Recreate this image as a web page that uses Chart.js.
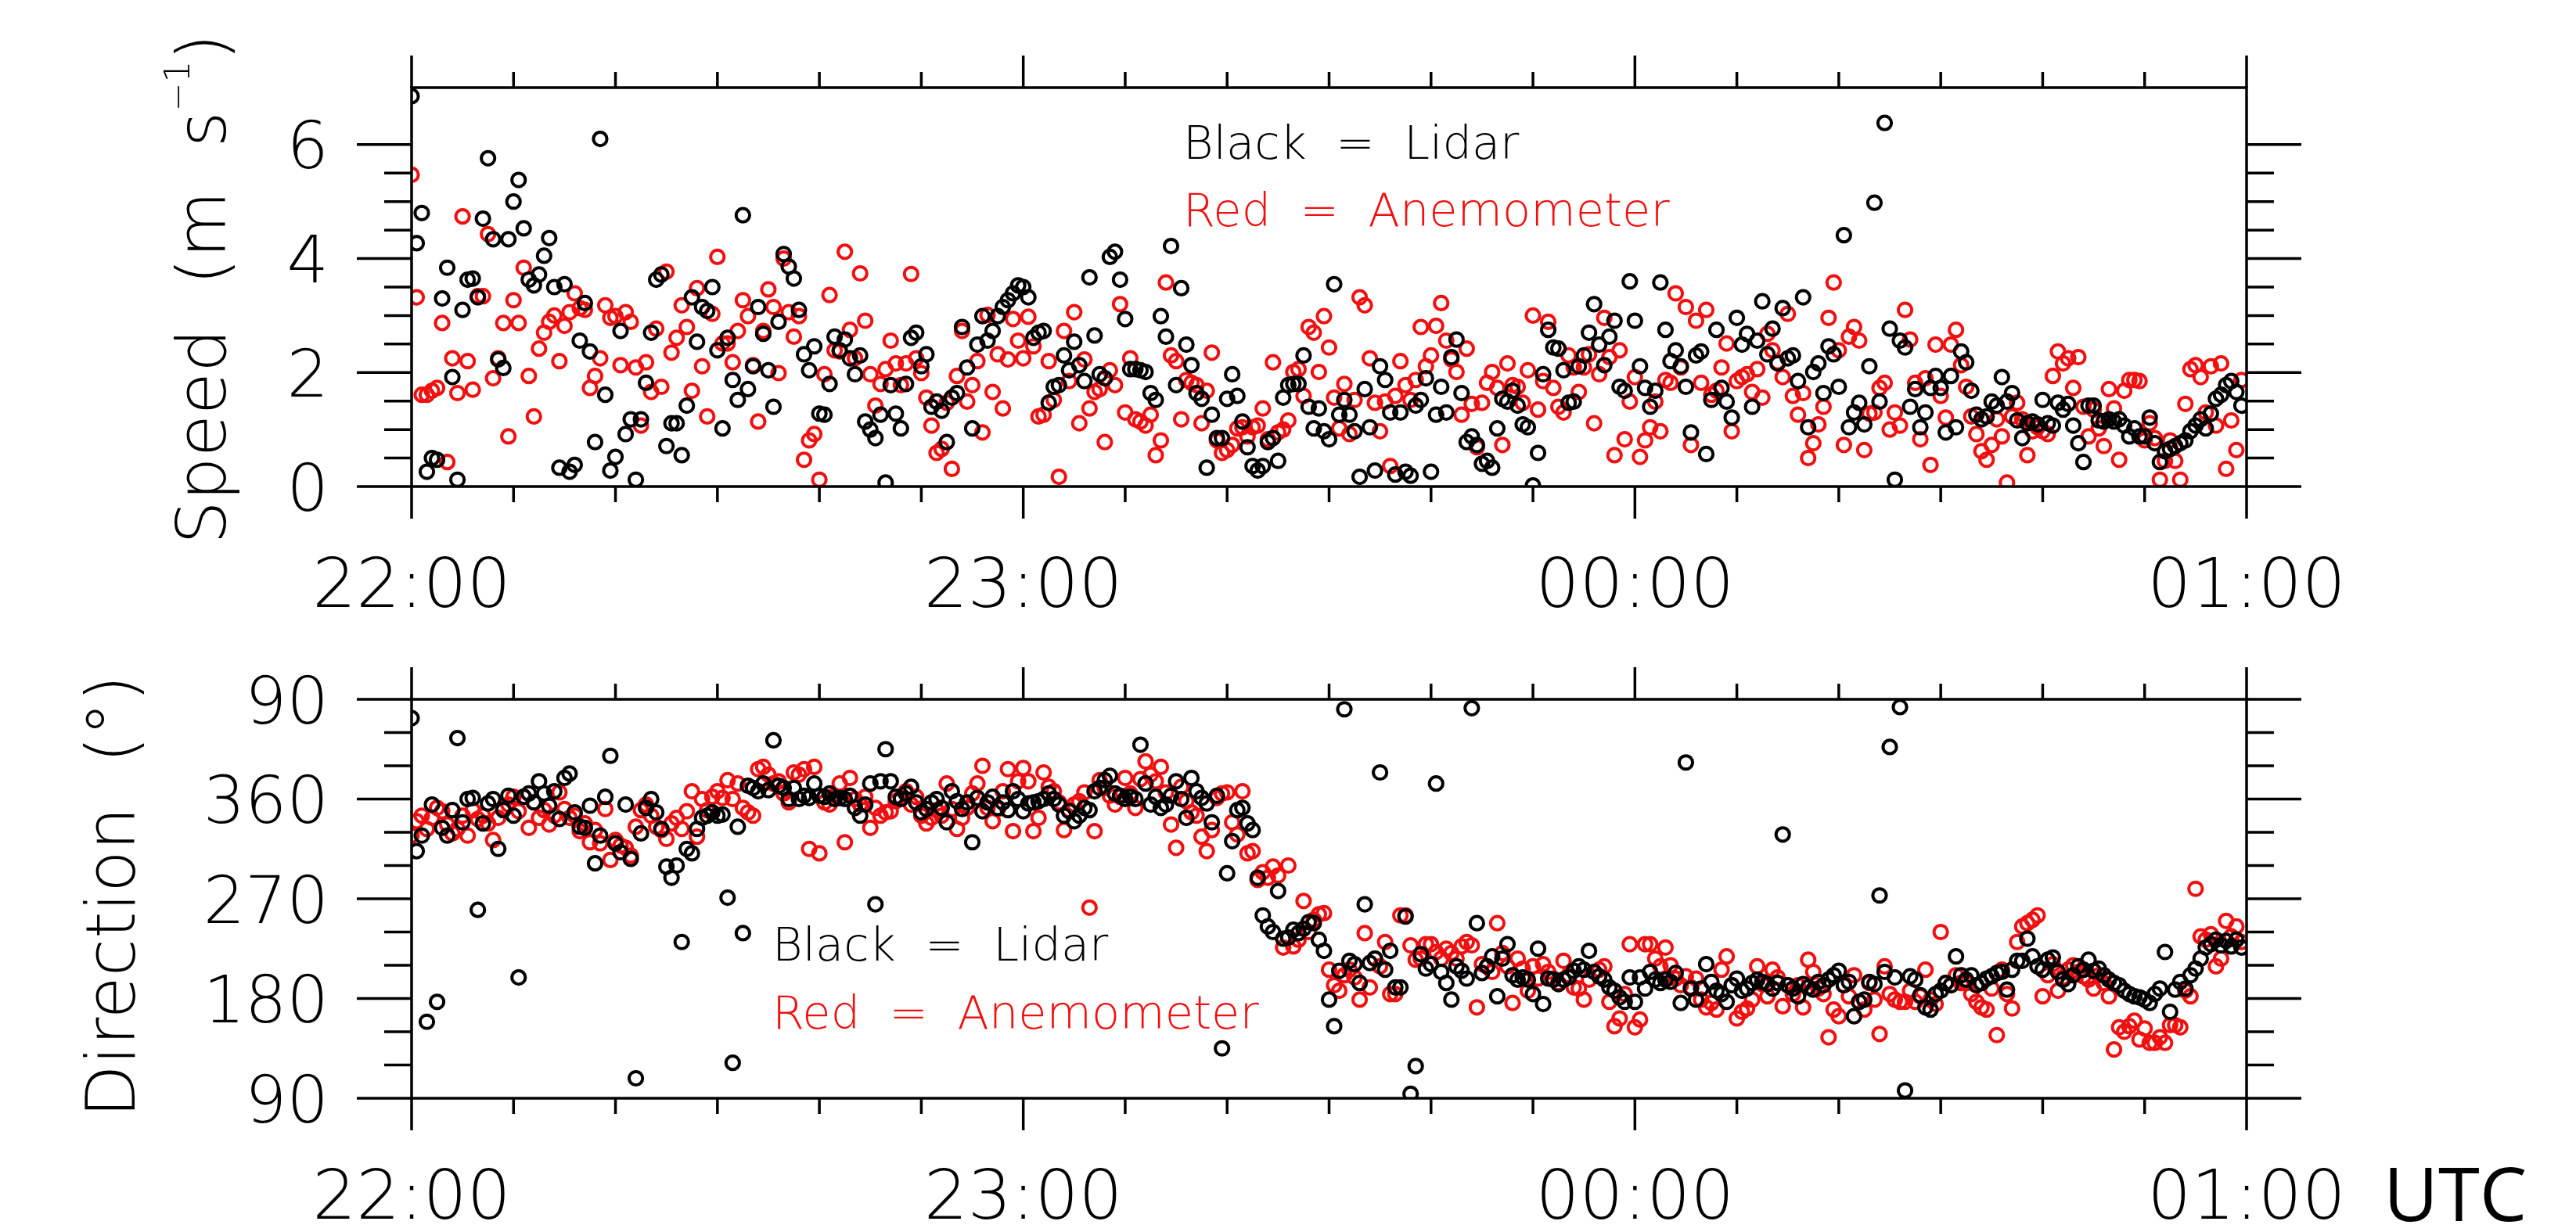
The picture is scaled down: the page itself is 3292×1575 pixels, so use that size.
<!DOCTYPE html>
<html>
<head>
<meta charset="utf-8">
<title>Lidar vs anemometer wind</title>
<script src="https://cdn.jsdelivr.net/npm/chart.js@4.4.1/dist/chart.umd.min.js"></script>
<style>
  html, body { margin: 0; padding: 0; background: #fff; }
  #wrap { position: relative; width: 3292px; height: 1575px; background: #fff; }
  canvas { position: absolute; left: 0; }
  #speedChart { top: 0; }
  #dirChart { top: 790px; }
</style>
</head>
<body>
<div id="wrap">
  <canvas id="speedChart" width="3292" height="790"></canvas>
  <canvas id="dirChart" width="3292" height="785"></canvas>
</div>
<script>
// samples every 30 s starting 22:00 UTC, one row = 10 minutes
const SAMPLE_MIN = 0.5;

const hourTicks = [0, 60, 120, 180];
const hourLabels = ['22:00', '23:00', '00:00', '01:00'];

const speedTicks = [0, 2, 4, 6];
const dirTicks = [90, 180, 270, 360, 450];
const dirLabels = ['90', '180', '270', '360', '90'];

// wind speed (m/s)
const lidarSpeed = [
  6.85, 4.27, 4.8, 0.26, 0.5, 0.47, 3.3, 3.84, 1.92, 0.12, 3.1, 3.63, 3.65, 3.32, 4.7, 5.76, 4.34, 2.23, 2.08, 4.34,
  5.0, 5.38, 4.53, 3.63, 3.53, 3.72, 4.05, 4.36, 3.5, 0.33, 3.55, 0.26, 0.38, 2.56, 3.22, 2.37, 0.78, 6.1, 1.61, 0.28,
  0.52, 2.73, 0.92, 1.18, 0.12, 1.18, 1.82, 2.7, 3.63, 3.72, 0.71, 1.11, 1.11, 0.55, 1.42, 3.32, 2.54, 3.15, 3.08, 3.5,
  2.39, 1.02, 2.61, 1.87, 1.52, 4.76, 1.71, 2.11, 3.15, 2.68, 2.04, 1.4, 2.89, 4.08, 3.86, 3.65, 3.1, 2.32, 2.04, 2.46,
  1.28, 1.26, 1.8, 2.63, 2.39, 2.58, 2.25, 1.97, 2.3, 1.14, 1.0, 0.85, 1.26, 0.07, 1.78, 1.28, 1.02, 1.8, 2.61, 2.7,
  2.11, 2.32, 1.4, 1.49, 1.33, 0.78, 1.56, 1.64, 2.8, 2.09, 1.02, 2.49, 2.99, 2.56, 2.73, 2.99, 3.15, 3.27, 3.39, 3.53,
  3.5, 3.32, 2.61, 2.7, 2.73, 1.47, 1.75, 1.78, 2.3, 2.04, 2.54, 2.13, 1.85, 3.67, 2.65, 1.97, 1.9, 4.03, 4.12, 3.63,
  2.94, 2.06, 2.06, 2.04, 2.01, 1.64, 1.52, 2.99, 2.63, 4.22, 1.78, 3.48, 2.49, 2.13, 1.64, 1.54, 0.33, 1.26, 0.85, 0.85,
  1.54, 1.97, 1.59, 1.14, 0.69, 0.36, 0.28, 0.36, 0.78, 0.85, 0.45, 1.56, 1.78, 1.8, 1.8, 2.3, 1.4, 1.02, 1.37, 0.97,
  0.83, 3.55, 1.26, 1.52, 1.26, 0.97, 0.17, 1.71, 1.04, 0.28, 2.11, 1.87, 1.3, 0.21, 1.3, 0.26, 0.19, 1.42, 1.52, 1.9,
  0.26, 1.26, 1.75, 1.3, 2.27, 2.58, 1.64, 0.78, 0.88, 0.73, 0.4, 0.45, 0.33, 1.02, 1.54, 1.49, 1.68, 1.42, 1.09, 1.04,
  0.02, 0.59, 1.97, 2.75, 2.44, 2.42, 2.04, 1.47, 1.49, 2.11, 2.3, 2.7, 3.2, 2.49, 2.13, 2.63, 2.91, 1.75, 1.68, 3.6,
  2.91, 2.11, 1.73, 1.4, 1.68, 3.58, 2.75, 2.2, 2.39, 2.11, 1.75, 0.95, 2.3, 2.37, 0.57, 1.52, 2.75, 1.73, 1.49, 1.21,
  2.96, 2.49, 2.68, 1.4, 2.56, 3.25, 2.32, 2.77, 2.16, 3.13, 2.25, 2.3, 1.85, 3.32, 1.04, 2.01, 2.16, 1.64, 2.46, 2.32,
  1.75, 4.41, 1.04, 1.3, 1.47, 1.09, 2.11, 4.98, 1.49, 6.38, 2.77, 0.12, 2.56, 2.44, 1.4, 1.71, 1.04, 1.3, 1.73, 1.94,
  1.73, 0.95, 1.94, 1.04, 2.37, 2.18, 1.68, 1.26, 1.18, 1.23, 1.49, 1.42, 1.92, 1.49, 1.64, 1.16, 0.85, 1.11, 1.14, 1.09,
  1.52, 1.11, 1.07, 1.47, 1.35, 1.45, 1.07, 0.76, 0.43, 1.42, 1.42, 1.16, 1.14, 1.18, 1.14, 1.18, 1.07, 0.88, 1.02, 0.88,
  0.88, 1.21, 0.76, 0.43, 0.62, 0.66, 0.71, 0.76, 0.81, 0.97, 1.07, 1.18, 1.02, 1.28, 1.54, 1.61, 1.78, 1.85, 1.66, 1.42
];

const anemSpeed = [
  5.47, 3.32, 1.61, 1.61, 1.68, 1.73, 2.87, 0.43, 2.25, 1.64, 4.74, 2.2, 1.7, 3.34, 3.34, 4.43, 1.9, 2.25, 2.87, 0.88,
  3.27, 2.87, 3.84, 1.94, 1.23, 2.42, 2.7, 2.89, 3.0, 2.2, 2.82, 3.06, 3.39, 3.13, 3.1, 1.73, 1.94, 2.25, 3.18, 2.96,
  2.99, 2.13, 3.06, 2.89, 2.09, 1.07, 2.18, 1.66, 2.77, 1.75, 3.77, 2.35, 2.61, 3.18, 2.8, 1.68, 3.48, 2.11, 1.23, 3.03,
  4.03, 2.51, 2.51, 2.18, 2.73, 3.27, 2.99, 2.13, 1.14, 2.73, 3.46, 3.15, 1.99, 4.0, 3.06, 2.63, 2.99, 0.47, 0.81, 0.92,
  0.12, 1.97, 3.36, 2.39, 2.37, 4.12, 2.75, 2.25, 3.74, 2.91, 1.97, 1.42, 1.8, 2.06, 2.56, 2.16, 1.78, 2.16, 3.73, 2.25,
  1.99, 1.56, 1.07, 0.59, 0.66, 1.47, 0.31, 1.94, 2.73, 1.49, 1.78, 2.2, 0.95, 3.01, 1.66, 2.32, 1.37, 2.23, 2.94, 2.56,
  2.25, 2.98, 2.46, 1.23, 1.26, 2.2, 1.52, 0.17, 2.73, 1.85, 3.06, 1.11, 2.23, 1.37, 1.66, 1.71, 0.78, 2.04, 1.78, 3.2,
  1.3, 2.25, 1.18, 1.14, 1.07, 1.26, 0.55, 0.81, 3.58, 2.3, 2.2, 1.18, 1.87, 1.82, 1.78, 1.11, 1.68, 2.35, 0.81, 0.59,
  0.64, 0.73, 1.02, 1.04, 0.88, 1.04, 1.07, 1.37, 0.83, 2.18, 0.95, 1.0, 1.16, 2.01, 2.06, 1.59, 2.8, 2.7, 2.01, 2.99,
  2.44, 1.56, 1.02, 1.8, 0.92, 1.52, 3.32, 3.18, 2.25, 1.47, 0.97, 1.49, 0.36, 1.59, 2.2, 1.78, 1.52, 1.87, 2.8, 2.11,
  2.3, 2.82, 3.22, 2.56, 2.23, 2.01, 1.26, 2.42, 1.45, 0.69, 1.47, 1.82, 2.01, 1.73, 0.73, 2.16, 1.78, 1.75, 1.47, 2.04,
  3.0, 1.35, 1.85, 2.89, 1.73, 1.4, 1.3, 2.3, 2.09, 1.66, 2.09, 2.32, 1.11, 1.97, 2.96, 2.27, 0.55, 2.39, 0.83, 1.49,
  1.92, 0.52, 0.81, 1.04, 1.49, 0.97, 1.87, 1.82, 3.39, 2.09, 3.15, 0.73, 2.91, 1.82, 3.1, 1.61, 1.68, 2.09, 2.51, 0.97,
  1.85, 1.92, 1.97, 1.66, 2.06, 1.56, 2.68, 2.39, 2.18, 1.92, 3.03, 1.59, 1.26, 1.64, 0.5, 0.76, 1.09, 1.4, 2.96, 3.58,
  2.39, 0.73, 2.63, 2.8, 2.56, 0.64, 1.28, 1.3, 1.73, 1.82, 1.0, 1.3, 1.07, 3.1, 2.58, 1.82, 0.83, 1.9, 0.38, 2.49,
  1.59, 1.21, 2.49, 2.75, 2.13, 1.75, 1.23, 0.92, 0.62, 0.47, 0.73, 1.18, 0.88, 0.07, 1.23, 1.47, 1.18, 0.55, 0.97, 1.04,
  0.97, 0.92, 1.94, 2.37, 2.16, 2.25, 1.73, 2.27, 1.4, 0.88, 1.35, 1.02, 0.71, 1.71, 1.37, 0.47, 1.68, 1.87, 1.87, 1.85,
  0.81, 1.11, 0.85, 0.12, 0.45, 0.81, 0.45, 0.12, 1.45, 2.06, 2.13, 1.92, 1.3, 2.11, 1.07, 2.16, 0.31, 1.16, 0.64, 1.87
];

// wind direction (deg), values above 360 wrap past north so the band stays continuous
const lidarDir = [
  433, 313, 327, 159, 355, 177, 334, 327, 350, 415, 339, 360, 361, 260, 338, 356, 360, 315, 350, 363,
  345, 199, 362, 365, 357, 376, 365, 354, 367, 342, 379, 383, 348, 335, 334, 354, 302, 327, 362, 399,
  320, 312, 355, 306, 108, 329, 352, 360, 348, 333, 299, 289, 300, 231, 315, 311, 333, 343, 345, 348,
  345, 346, 271, 122, 335, 239, 372, 370, 367, 374, 368, 413, 372, 370, 360, 370, 360, 363, 361, 374,
  363, 362, 365, 360, 361, 360, 363, 352, 345, 355, 374, 265, 376, 405, 376, 362, 360, 365, 371, 357,
  348, 351, 357, 360, 352, 339, 367, 358, 351, 357, 321, 361, 349, 357, 362, 352, 357, 350, 367, 360,
  349, 356, 357, 358, 360, 365, 360, 355, 345, 349, 340, 345, 352, 350, 367, 370, 377, 381, 365, 363,
  360, 362, 360, 409, 374, 355, 362, 352, 355, 363, 376, 360, 343, 379, 367, 361, 356, 339, 363, 135,
  293, 322, 350, 352, 338, 332, 289, 255, 245, 240, 277, 234, 235, 242, 239, 243, 249, 248, 233, 223,
  179, 155, 205, 441, 214, 211, 194, 265, 212, 216, 384, 206, 223, 190, 190, 254, 94, 119, 220, 207,
  211, 374, 204, 194, 179, 209, 205, 198, 442, 248, 203, 209, 218, 182, 216, 229, 201, 197, 199, 197,
  184, 225, 175, 198, 197, 193, 197, 199, 205, 209, 206, 223, 204, 200, 197, 190, 187, 181, 177, 199,
  177, 199, 189, 204, 197, 194, 197, 195, 203, 176, 393, 189, 179, 189, 211, 195, 187, 184, 177, 192,
  198, 187, 189, 194, 197, 195, 193, 189, 194, 328, 192, 189, 182, 193, 190, 188, 195, 192, 197, 201,
  205, 192, 195, 164, 177, 179, 195, 193, 273, 204, 407, 199, 443, 97, 200, 197, 183, 172, 170, 184,
  187, 194, 192, 218, 201, 197, 201, 192, 194, 198, 200, 203, 204, 188, 206, 214, 214, 234, 218, 209,
  206, 215, 217, 204, 197, 193, 201, 209, 206, 215, 205, 207, 201, 197, 194, 192, 187, 184, 182, 181,
  179, 176, 184, 189, 222, 168, 188, 195, 189, 201, 207, 216, 226, 229, 233, 228, 232, 227, 233, 226
];

const anemDir = [
  327, 340, 345, 333, 343, 352, 349, 337, 329, 333, 345, 327, 350, 342, 345, 338, 323, 343, 352, 355,
  362, 349, 362, 334, 357, 343, 350, 337, 345, 366, 351, 343, 345, 331, 338, 321, 332, 320, 351, 305,
  323, 318, 316, 309, 335, 350, 355, 345, 335, 332, 324, 338, 343, 333, 349, 367, 326, 360, 350, 362,
  367, 361, 377, 360, 374, 352, 348, 345, 387, 389, 382, 374, 376, 365, 357, 384, 382, 387, 315, 389,
  311, 357, 355, 363, 374, 321, 379, 360, 355, 362, 334, 352, 345, 348, 349, 358, 361, 367, 355, 362,
  345, 338, 343, 350, 345, 374, 351, 333, 343, 352, 365, 374, 390, 352, 340, 351, 367, 387, 331, 376,
  388, 376, 331, 343, 384, 371, 367, 357, 332, 350, 355, 358, 366, 262, 331, 377, 370, 363, 355, 362,
  379, 365, 352, 378, 394, 382, 376, 389, 366, 337, 316, 371, 358, 348, 345, 326, 313, 332, 361, 365,
  366, 339, 328, 367, 311, 313, 287, 294, 289, 299, 291, 226, 300, 227, 233, 268, 240, 251, 256, 257,
  206, 192, 187, 201, 206, 199, 179, 239, 190, 216, 209, 231, 184, 184, 255, 255, 228, 215, 216, 229,
  229, 222, 216, 225, 221, 216, 227, 231, 228, 172, 211, 209, 204, 248, 221, 209, 176, 216, 207, 187,
  209, 198, 211, 204, 198, 194, 214, 201, 190, 189, 179, 197, 204, 206, 209, 177, 155, 162, 184, 229,
  154, 161, 229, 229, 216, 209, 226, 210, 198, 192, 200, 190, 198, 179, 172, 176, 170, 206, 218, 192,
  162, 168, 171, 179, 209, 193, 182, 206, 199, 173, 192, 184, 192, 172, 215, 204, 189, 184, 145, 170,
  164, 192, 182, 201, 177, 170, 194, 179, 148, 209, 184, 179, 177, 177, 187, 177, 182, 206, 179, 175,
  240, 194, 192, 201, 194, 194, 184, 177, 172, 170, 189, 147, 206, 184, 171, 231, 245, 248, 251, 255,
  182, 201, 211, 187, 199, 206, 210, 204, 200, 197, 189, 201, 194, 182, 134, 154, 150, 155, 160, 143,
  153, 140, 140, 145, 140, 156, 156, 154, 187, 182, 279, 236, 233, 238, 209, 216, 250, 236, 245, 231
];

const BLACK = '#000000';
const RED = '#f01010';
const FONT = '"DejaVu Sans", "Liberation Sans", sans-serif';
const Y_TICK_PX = 84;
const X_TICK_PX = 88;

function toPoints(values) {
  return values.map((v, i) => ({ x: i * SAMPLE_MIN, y: v }));
}

function circles(label, values, color) {
  return {
    label,
    data: toPoints(values),
    pointStyle: 'circle',
    pointRadius: 8.6,
    pointHoverRadius: 8.6,
    borderWidth: 4,
    borderColor: color,
    backgroundColor: 'rgba(0,0,0,0)',
    clip: 0
  };
}

// box frame with outward ticks on all four sides plus tick labels
const axesFrame = {
  id: 'axesFrame',
  afterDraw(chart, args, o) {
    const { ctx, chartArea: a } = chart;
    const xs = chart.scales.x, ys = chart.scales.y;
    ctx.save();
    ctx.strokeStyle = BLACK;
    ctx.fillStyle = BLACK;
    ctx.lineWidth = 3.5;
    ctx.strokeRect(a.left, a.top, a.right - a.left, a.bottom - a.top);

    ctx.beginPath();
    for (let m = 0; m <= 180; m += 10) {
      const px = xs.getPixelForValue(m);
      const len = m % 60 === 0 ? 41 : 20;
      ctx.moveTo(px, a.top); ctx.lineTo(px, a.top - len);
      ctx.moveTo(px, a.bottom); ctx.lineTo(px, a.bottom + len);
    }
    const n = Math.round((o.yTo - o.yFrom) / o.yMinor);
    for (let k = 0; k <= n; k++) {
      const v = o.yFrom + k * o.yMinor;
      const py = ys.getPixelForValue(v);
      const len = (k * o.yMinor) % o.yMajor === 0 ? 70 : 35;
      ctx.moveTo(a.left, py); ctx.lineTo(a.left - len, py);
      ctx.moveTo(a.right, py); ctx.lineTo(a.right + len, py);
    }
    ctx.stroke();

    ctx.font = `200 ${Y_TICK_PX}px ${FONT}`;
    ctx.textAlign = 'right';
    ctx.textBaseline = 'alphabetic';
    o.yTicks.forEach((v, i) => {
      ctx.fillText(o.yLabels[i], a.left - 106, ys.getPixelForValue(v) + 0.364 * Y_TICK_PX);
    });

    ctx.font = `200 ${X_TICK_PX}px ${FONT}`;
    ctx.textAlign = 'center';
    hourTicks.forEach((m, i) => {
      ctx.fillText(hourLabels[i], xs.getPixelForValue(m), a.bottom + 154);
    });
    ctx.restore();
  }
};

// rotated axis title built from pieces so the superscript can sit higher
function drawTitle(ctx, x, y, pieces) {
  ctx.save();
  ctx.translate(x, y);
  ctx.rotate(-Math.PI / 2);
  ctx.fillStyle = BLACK;
  ctx.textAlign = 'left';
  ctx.textBaseline = 'alphabetic';
  let cx = 0;
  pieces.forEach(p => {
    ctx.font = `200 ${p.size}px ${FONT}`;
    ctx.fillText(p.text, cx, -(p.rise || 0));
    cx += ctx.measureText(p.text).width;
  });
  ctx.restore();
}

function drawKey(ctx, x, y1, y2) {
  ctx.save();
  ctx.font = `200 59px ${FONT}`;
  ctx.textAlign = 'left';
  ctx.textBaseline = 'alphabetic';
  ctx.fillStyle = BLACK;
  ctx.fillText('Black  =  Lidar', x, y1);
  ctx.fillStyle = RED;
  ctx.fillText('Red  =  Anemometer', x, y2);
  ctx.restore();
}

const speedText = {
  id: 'speedText',
  afterDraw(chart) {
    const ctx = chart.ctx;
    drawTitle(ctx, 288, 696, [
      { text: 'Speed  (m  s', size: 88 },
      { text: '\u22121', size: 44, rise: 46 },
      { text: ')', size: 88 }
    ]);
    drawKey(ctx, 1512, 203, 289);
  }
};

const dirText = {
  id: 'dirText',
  afterDraw(chart) {
    const ctx = chart.ctx;
    drawTitle(ctx, 172, 639, [{ text: 'Direction  (\u00b0)', size: 88 }]);
    drawKey(ctx, 987, 438, 525);
    ctx.save();
    ctx.font = '96px "Open Sans", "Liberation Sans", sans-serif';
    ctx.fillStyle = BLACK;
    ctx.textAlign = 'left';
    ctx.fillText('UTC', 3046, 771);
    ctx.restore();
  }
};

function baseOptions(padding, yMin, yMax, frame) {
  return {
    responsive: false,
    animation: false,
    events: [],
    layout: { padding },
    scales: {
      x: { type: 'linear', min: 0, max: 180, display: false },
      y: { type: 'linear', min: yMin, max: yMax, display: false }
    },
    plugins: {
      legend: { display: false },
      tooltip: { enabled: false },
      axesFrame: frame
    }
  };
}

new Chart(document.getElementById('speedChart'), {
  type: 'scatter',
  data: {
    datasets: [
      circles('Lidar', lidarSpeed, BLACK),
      circles('Anemometer', anemSpeed, RED)
    ]
  },
  options: baseOptions({ left: 526, right: 421, top: 112, bottom: 168 }, 0, 7, {
    yFrom: 0, yTo: 6, yMinor: 0.5, yMajor: 2,
    yTicks: speedTicks, yLabels: speedTicks.map(String)
  }),
  plugins: [axesFrame, speedText]
});

new Chart(document.getElementById('dirChart'), {
  type: 'scatter',
  data: {
    datasets: [
      circles('Lidar', lidarDir, BLACK),
      circles('Anemometer', anemDir, RED)
    ]
  },
  options: baseOptions({ left: 526, right: 421, top: 104, bottom: 171 }, 90, 450, {
    yFrom: 90, yTo: 450, yMinor: 30, yMajor: 90,
    yTicks: dirTicks, yLabels: dirLabels
  }),
  plugins: [axesFrame, dirText]
});
</script>
</body>
</html>
